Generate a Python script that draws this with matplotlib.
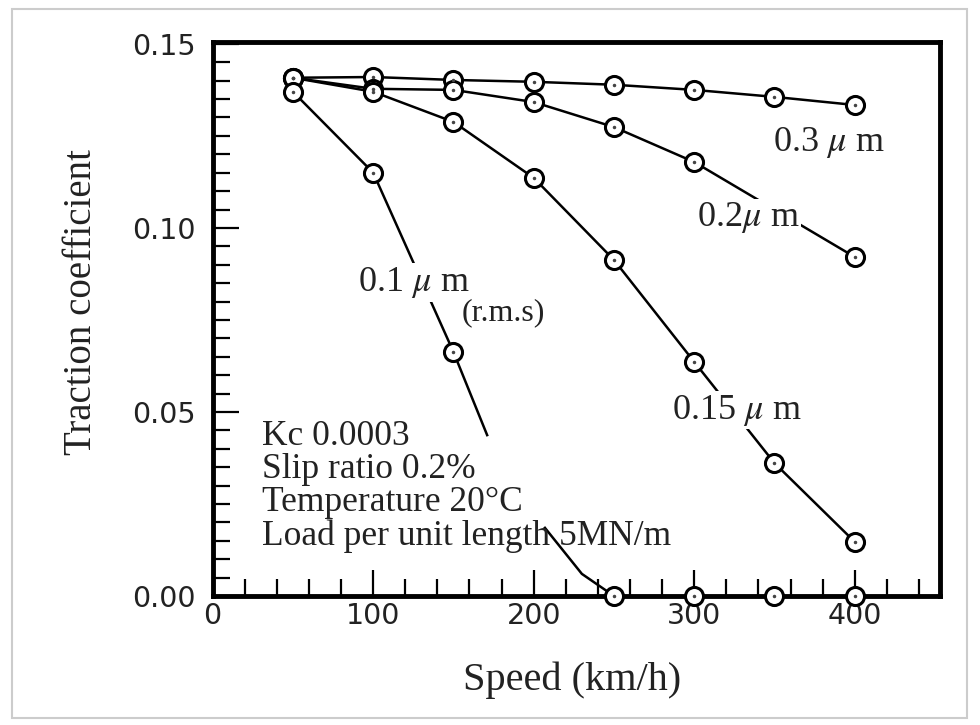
import numpy as np
import matplotlib
matplotlib.use('Agg')
import matplotlib.pyplot as plt
from matplotlib.patches import Rectangle
from matplotlib.ticker import MultipleLocator, FormatStrFormatter

plt.rcParams['mathtext.fontset'] = 'stix'

# speed (km/h)
speed = [50, 100, 150, 200, 250, 300, 350, 400]
# traction coefficient per roughness (r.m.s)
tc_03 = [0.1408, 0.1410, 0.1402, 0.1397, 0.1389, 0.1375, 0.1356, 0.1334]
tc_02 = [0.1408, 0.1378, 0.1375, 0.1342, 0.1274, 0.1179, None, 0.0921]
tc_015 = [0.1408, 0.1370, 0.1288, 0.1136, 0.0913, 0.0636, 0.0361, 0.0147]
# 0.1 um: measured points
speed_01 = [50, 100, 150, 250, 300, 350, 400]
tc_01 = [0.1370, 0.1150, 0.0663, 0.0, 0.0, 0.0, 0.0]
# visible pieces of the hand-drawn 0.1 um curve (hidden behind the text block)
curve_a_x = [150, 171]
curve_a_y = [0.0663, 0.0437]
curve_b_x = [207, 230, 250]
curve_b_y = [0.0185, 0.0060, 0.0]

serif = 'Liberation Serif'
ink = '#222222'


def draw_marks(ax, xs, ys):
    ax.plot(xs, ys, ls='none', marker='o', ms=13, mfc='white', mec='black',
            mew=2.2, zorder=4, clip_on=False)
    ax.plot(xs, ys, ls='none', marker='.', ms=3, color='#444444', zorder=5,
            clip_on=False)


def draw_series(ax, x, y):
    pts = [(a, b) for a, b in zip(x, y) if b is not None]
    xs, ys = zip(*pts)
    ax.plot(xs, ys, color='black', lw=1.8, zorder=2)
    draw_marks(ax, xs, ys)


fig = plt.figure(figsize=(9.8, 7.25), dpi=100)
ax = fig.add_axes([0.217, 0.178, 0.742, 0.764])

draw_series(ax, speed, tc_03)
draw_series(ax, speed, tc_02)
draw_series(ax, speed, tc_015)

ax.plot(speed_01[:3], tc_01[:3], color='black', lw=1.8, zorder=2)
ax.plot(curve_a_x, curve_a_y, color='black', lw=1.8, zorder=2)
ax.plot(curve_b_x, curve_b_y, color='black', lw=1.8, zorder=2)
draw_marks(ax, speed_01, tc_01)

ax.set_xlim(0, 453)
ax.set_ylim(0, 0.1505)
ax.xaxis.set_major_locator(MultipleLocator(100))
ax.xaxis.set_minor_locator(MultipleLocator(20))
ax.yaxis.set_major_locator(MultipleLocator(0.05))
ax.yaxis.set_minor_locator(MultipleLocator(0.005))
ax.yaxis.set_major_formatter(FormatStrFormatter('%.2f'))

ax.tick_params(which='both', direction='in', width=1.6, top=False, right=False)
ax.tick_params(which='major', length=19)
ax.tick_params(which='minor', length=12)
ax.tick_params(axis='x', which='major', pad=4)
ax.tick_params(axis='y', which='major', pad=12)
for lab in ax.get_xticklabels() + ax.get_yticklabels():
    lab.set_fontfamily('DejaVu Sans')
    lab.set_fontsize(20.5)
    lab.set_color(ink)

for s in ax.spines.values():
    s.set_linewidth(3.5)

ax.set_xlabel('Speed (km/h)', family=serif, fontsize=29, color=ink)
ax.set_ylabel('Traction coefficient', family=serif, fontsize=28, color=ink)
ax.xaxis.set_label_coords(0.494, -0.118)
ax.yaxis.set_label_coords(-0.155, 0.53)

box = dict(facecolor='white', edgecolor='none', boxstyle='square,pad=0.05')
tkw = dict(family=serif, fontsize=26, color=ink, zorder=6)
ax.text(349, 0.1231, '0.3 $\\mu$ m', ha='left', va='center', **tkw)
ax.text(301.6, 0.1027, '0.2$\\mu$ m', ha='left', va='center', bbox=box, **tkw)
ax.text(90.3, 0.0851, '0.1 $\\mu$ m', ha='left', va='center', bbox=box, **tkw)
ax.text(155, 0.0769, '(r.m.s)', ha='left', va='center', family=serif,
        fontsize=23, color=ink, zorder=6)
ax.text(286, 0.0505, '0.15 $\\mu$ m', ha='left', va='center', bbox=box, **tkw)
ax.text(30.5, 0.0478,
        'Kc 0.0003\nSlip ratio 0.2%\nTemperature 20\u00b0C\nLoad per unit length 5MN/m',
        ha='left', va='top', linespacing=1.0, family=serif, fontsize=25.5,
        color=ink, zorder=6)

fig.patches.append(Rectangle((0.012, 0.01), 0.975, 0.978, transform=fig.transFigure,
                             fill=False, ec='#cccccc', lw=1.5))

fig.savefig('out.png', dpi=100)
